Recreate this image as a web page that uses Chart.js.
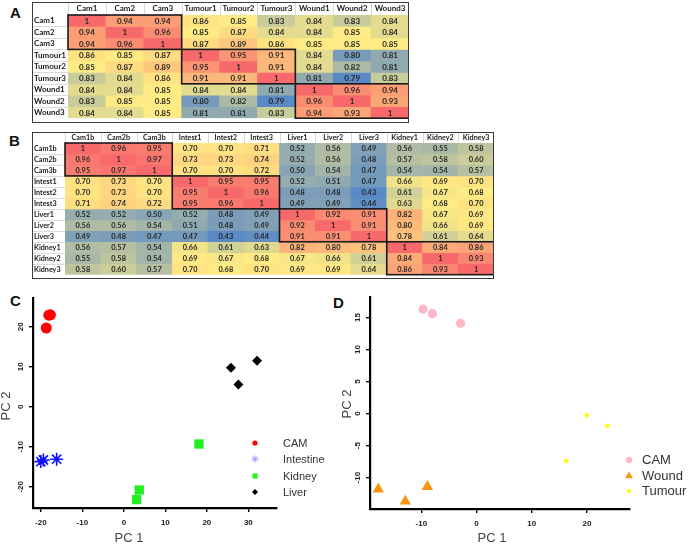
<!DOCTYPE html>
<html><head><meta charset="utf-8">
<script src="https://cdn.jsdelivr.net/npm/chart.js@4.4.1/dist/chart.umd.min.js"></script>
<style>
html,body{margin:0;padding:0;background:#fff;}
body{width:688px;height:545px;position:relative;overflow:hidden;}
canvas{position:absolute;}
.letter{position:absolute;font:bold 15px "Liberation Sans",Arial,sans-serif;color:#111;line-height:1;}
</style></head><body>
<div class="letter" style="left:10px;top:5px">A</div>
<div class="letter" style="left:9px;top:133px">B</div>
<div class="letter" style="left:10px;top:293px">C</div>
<div class="letter" style="left:333px;top:295px">D</div>
<canvas id="hmA" width="377" height="121" style="left:32px;top:2px;width:377px;height:121px"></canvas>
<canvas id="hmB" width="462" height="147" style="left:32px;top:132px;width:462px;height:147px"></canvas>
<canvas id="pcC" width="340" height="265" style="left:0px;top:280px;width:340px;height:265px"></canvas>
<canvas id="pcD" width="348" height="265" style="left:340px;top:280px;width:348px;height:265px"></canvas>
<script>
// ---------- DATA ----------
const rowsA = ['Cam1','Cam2','Cam3','Tumour1','Tumour2','Tumour3','Wound1','Wound2','Wound3'];
const colsA = ['Cam1','Cam2','Cam3','Tumour1','Tumour2','Tumour3','Wound1','Wound2','Wound3'];
const valuesA = [
  [1,0.94,0.94,0.86,0.85,0.83,0.84,0.83,0.84],
  [0.94,1,0.96,0.85,0.87,0.84,0.84,0.85,0.84],
  [0.94,0.96,1,0.87,0.89,0.86,0.85,0.85,0.85],
  [0.86,0.85,0.87,1,0.95,0.91,0.84,0.80,0.81],
  [0.85,0.87,0.89,0.95,1,0.91,0.84,0.82,0.81],
  [0.83,0.84,0.86,0.91,0.91,1,0.81,0.79,0.83],
  [0.84,0.84,0.85,0.84,0.84,0.81,1,0.96,0.94],
  [0.83,0.85,0.85,0.80,0.82,0.79,0.96,1,0.93],
  [0.84,0.84,0.85,0.81,0.81,0.83,0.94,0.93,1]
];
const groupsA = [[0,2],[3,5],[6,8]];

const rowsB = ['Cam1b','Cam2b','Cam3b','Intest1','Intest2','Intest3','Liver1','Liver2','Liver3','Kidney1','Kidney2','Kidney3'];
const colsB = ['Cam1b','Cam2b','Cam3b','Intest1','Intest2','Intest3','Liver1','Liver2','Liver3','Kidney1','Kidney2','Kidney3'];
const valuesB = [
  [1,0.96,0.95,0.70,0.70,0.71,0.52,0.56,0.49,0.56,0.55,0.58],
  [0.96,1,0.97,0.73,0.73,0.74,0.52,0.56,0.48,0.57,0.58,0.60],
  [0.95,0.97,1,0.70,0.70,0.72,0.50,0.54,0.47,0.54,0.54,0.57],
  [0.70,0.73,0.70,1,0.95,0.95,0.52,0.51,0.47,0.66,0.69,0.70],
  [0.70,0.73,0.70,0.95,1,0.96,0.48,0.48,0.43,0.61,0.67,0.68],
  [0.71,0.74,0.72,0.95,0.96,1,0.49,0.49,0.44,0.63,0.68,0.70],
  [0.52,0.52,0.50,0.52,0.48,0.49,1,0.92,0.91,0.82,0.67,0.69],
  [0.56,0.56,0.54,0.51,0.48,0.49,0.92,1,0.91,0.80,0.66,0.69],
  [0.49,0.48,0.47,0.47,0.43,0.44,0.91,0.91,1,0.78,0.61,0.64],
  [0.56,0.57,0.54,0.66,0.61,0.63,0.82,0.80,0.78,1,0.84,0.86],
  [0.55,0.58,0.54,0.69,0.67,0.68,0.67,0.66,0.61,0.84,1,0.93],
  [0.58,0.60,0.57,0.70,0.68,0.70,0.69,0.69,0.64,0.86,0.93,1]
];
const groupsB = [[0,2],[3,5],[6,8],[9,11]];

const camC = [{x:-18.1,y:22.9},{x:-17.7,y:23.0},{x:-18.7,y:19.7}];
const intestineC = [{x:-20.0,y:-13.7},{x:-19.4,y:-13.3},{x:-16.2,y:-13.1}];
const kidneyC = [{x:18.1,y:-9.3},{x:3.7,y:-20.8},{x:3.05,y:-23.2}];
const liverC = [{x:25.8,y:9.75},{x:27.6,y:5.6},{x:32.1,y:11.5}];

const camD = [{x:-9.7,y:16.3},{x:-8.0,y:15.6},{x:-2.9,y:14.1}];
const woundD = [{x:-17.8,y:-11.8},{x:-12.9,y:-13.7},{x:-8.9,y:-11.4}];
const tumourD = [{x:20.0,y:-0.27},{x:23.7,y:-1.9},{x:16.2,y:-7.4}];

const xTicksC = [-20,-10,0,10,20,30];
const yTicksC = [-20,-10,0,10,20];
const xTicksD = [-10,0,10,20];
const yTicksD = [-10,-5,0,5,10,15];

// ---------- COLOUR SCALE (Excel 3-colour: blue / yellow / red) ----------
const LOW = [90,138,198], MID = [255,235,132], HIGH = [248,105,107];
function makeScale(matrix){
  const all = matrix.flat().slice().sort((a,b)=>a-b);
  const n = all.length, r = 0.5*(n-1), lo = Math.floor(r);
  const mid = all[lo] + (all[Math.min(lo+1,n-1)] - all[lo])*(r-lo);
  const min = all[0], max = all[n-1];
  const mix = (a,b,t)=>'rgb('+a.map((v,i)=>Math.round(v+(b[i]-v)*t)).join(',')+')';
  return v => v <= mid ? mix(LOW, MID, (v-min)/((mid-min)||1)) : mix(MID, HIGH, (v-mid)/((max-mid)||1));
}

const FONT = 'Lato, "Liberation Sans", Arial, sans-serif';

function heatPlugin(values, groups, cellFont){
  return {
    id:'heatcells',
    afterDraw(chart){
      const ctx = chart.ctx, ca = chart.chartArea;
      ctx.save();
      ctx.strokeStyle = '#dadada'; ctx.lineWidth = 1;
      const m0 = chart.getDatasetMeta(0).data;
      m0.forEach((el,j)=>{ if(j>0){ const x = Math.round(el.x - el.width/2)+0.5; ctx.beginPath(); ctx.moveTo(x,1); ctx.lineTo(x,ca.top); ctx.stroke(); } });
      chart.data.datasets.forEach((ds,i)=>{ if(i>0){ const el = chart.getDatasetMeta(i).data[0]; const y = Math.round(Math.min(el.y,el.base))+0.5; ctx.beginPath(); ctx.moveTo(1,y); ctx.lineTo(ca.left,y); ctx.stroke(); } });
      ctx.beginPath(); ctx.moveTo(ca.left+0.5,1); ctx.lineTo(ca.left+0.5,ca.top); ctx.stroke();
      ctx.fillStyle = '#262626'; ctx.font = cellFont; ctx.textAlign = 'center'; ctx.textBaseline = 'middle';
      chart.data.datasets.forEach((ds,i)=>{
        chart.getDatasetMeta(i).data.forEach((el,j)=>{
          const v = values[i][j];
          ctx.fillText(v === 1 ? '1' : v.toFixed(2), el.x, (el.y+el.base)/2 + 0.5);
        });
      });
      ctx.strokeStyle = '#1a1a1a'; ctx.lineWidth = 1.6;
      groups.forEach(([s,e])=>{
        const a = chart.getDatasetMeta(s).data[s], b = chart.getDatasetMeta(e).data[e];
        const x1 = a.x - a.width/2, x2 = b.x + b.width/2;
        const y1 = Math.min(a.y,a.base), y2 = Math.max(b.y,b.base);
        ctx.strokeRect(x1, y1, x2-x1, y2-y1);
      });
      ctx.strokeStyle = '#3a3a3a'; ctx.lineWidth = 1;
      ctx.strokeRect(0.5,0.5,chart.width-1,chart.height-1);
      ctx.restore();
    }
  };
}

function heatmap(id, rows, cols, values, groups, g){
  const color = makeScale(values);
  return new Chart(document.getElementById(id), {
    type:'bar',
    data:{
      labels: cols,
      datasets: rows.map((r,i)=>({
        label: r,
        data: cols.map(()=>1),
        backgroundColor: values[i].map(color),
        borderWidth: 0,
        barPercentage: 1,
        categoryPercentage: 1
      }))
    },
    options:{
      responsive:false, animation:false, events:[],
      layout:{padding:{left:g.padLeft, right:0, top:0, bottom:0}},
      plugins:{legend:{display:false}, tooltip:{enabled:false}},
      scales:{
        x:{type:'category', position:'top', stacked:true, offset:true,
           grid:{display:false, drawTicks:false}, border:{display:false},
           ticks:{autoSkip:false, maxRotation:0, minRotation:0, padding:g.xPad, color:'#1a1a1a', font:{family:FONT, weight:'bold', size:g.labelSize}},
           afterFit(s){ s.height = g.headH; }},
        y:{type:'linear', stacked:true, min:0, max:rows.length, reverse:true,
           grid:{display:false, drawTicks:false}, border:{display:false},
           afterBuildTicks(s){ s.ticks = rows.map((r,i)=>({value:i+0.5})); },
           ticks:{autoSkip:false, crossAlign:'far', padding:0, color:'#1a1a1a', font:{family:FONT, weight:'bold', size:g.labelSize},
                  callback:(v)=>rows[Math.floor(v)]},
           afterFit(s){ s.width = g.labW; }}
      }
    },
    plugins:[heatPlugin(values, groups, 'bold '+g.cellSize+'px '+FONT)]
  });
}

heatmap('hmA', rowsA, colsA, valuesA, groupsA, {padLeft:2, labW:34, headH:13, xPad:2, labelSize:8, cellSize:8});
heatmap('hmB', rowsB, colsB, valuesB, groupsB, {padLeft:2, labW:31, headH:11, xPad:1.5, labelSize:7.2, cellSize:7.4});

// ---------- PCA SCATTERS ----------
const AX = '"Liberation Sans", Arial, Helvetica, sans-serif';
function pcaPlugin(cfg){
  return {
    id:'pcaextra',
    afterDraw(chart){
      const ctx = chart.ctx, ys = chart.scales.y, ca = chart.chartArea;
      ctx.save();
      ctx.fillStyle = '#222'; ctx.font = 'bold 8px '+AX; ctx.textAlign = 'center'; ctx.textBaseline = 'middle';
      ys.ticks.forEach(t=>{
        const py = ys.getPixelForValue(t.value);
        ctx.save(); ctx.translate(ca.left - cfg.yLabOff, py); ctx.rotate(-Math.PI/2);
        ctx.fillText(String(t.value), 0, 0); ctx.restore();
      });
      ctx.fillStyle = '#444'; ctx.font = '13px '+AX;
      ctx.fillText('PC 1', cfg.xTitle[0], cfg.xTitle[1]);
      ctx.save(); ctx.translate(cfg.yTitle[0], cfg.yTitle[1]); ctx.rotate(-Math.PI/2); ctx.fillText('PC 2',0,0); ctx.restore();
      ctx.textAlign = 'left'; ctx.font = cfg.legFont+'px '+AX;
      cfg.legend.forEach((it,k)=>{
        const y = cfg.legY[k];
        ctx.save();
        ctx.fillStyle = it.fill; ctx.strokeStyle = it.stroke; ctx.lineWidth = it.bw;
        Chart.helpers.drawPoint(ctx, {pointStyle: it.style, radius: it.r, rotation: 0, borderWidth: it.bw}, cfg.legX, y);
        ctx.restore();
        ctx.fillStyle = '#333';
        ctx.fillText(it.label, cfg.legTextX, y + 0.5);
      });
      ctx.restore();
    }
  };
}

function pca(id, datasets, ax, cfg){
  return new Chart(document.getElementById(id), {
    type:'scatter',
    data:{datasets},
    options:{
      responsive:false, animation:false, events:[],
      layout:{padding:{left:0, right:ax.padRight, top:ax.padTop, bottom:0}},
      plugins:{legend:{display:false}, tooltip:{enabled:false}},
      scales:{
        x:{type:'linear', min:ax.xmin, max:ax.xmax,
           border:{display:true, color:'#000', width:2.2},
           grid:{display:true, drawOnChartArea:false, drawTicks:true, tickLength:4, color:'#000', lineWidth:1.4},
           afterBuildTicks(s){ s.ticks = ax.xticks.map(v=>({value:v})); },
           ticks:{padding:6, color:'#222', font:{family:AX, weight:'bold', size:8}, maxRotation:0},
           afterFit(s){ s.height = ax.bottomH; }},
        y:{type:'linear', min:ax.ymin, max:ax.ymax,
           border:{display:true, color:'#000', width:2.2},
           grid:{display:true, drawOnChartArea:false, drawTicks:true, tickLength:4, color:'#000', lineWidth:1.4},
           afterBuildTicks(s){ s.ticks = ax.yticks.map(v=>({value:v})); },
           ticks:{display:false},
           afterFit(s){ s.width = ax.leftW; }}
      }
    },
    plugins:[pcaPlugin(cfg)]
  });
}

function ds(label, data, style, r, fill, stroke, bw){
  return {label, data, pointStyle:style, pointRadius:r, pointHoverRadius:r,
          pointBackgroundColor:fill, pointBorderColor:stroke, pointBorderWidth:bw, showLine:false};
}

pca('pcC', [
  ds('CAM', camC, 'circle', 5.5, '#ff0000', '#ff0000', 0),
  ds('Intestine', intestineC, 'star', 6.5, '#1010ff', '#1010ff', 1.6),
  ds('Kidney', kidneyC, 'rect', 6.6, '#22ee22', '#22ee22', 0),
  ds('Liver', liverC, 'rectRot', 5, '#000000', '#000000', 0)
], {xmin:-21.9, xmax:36.9, ymin:-25.3, ymax:27.2, xticks:xTicksC, yticks:yTicksC, padRight:63, padTop:18, bottomH:37, leftW:33},
{yLabOff:12, xTitle:[129,258], yTitle:[6,126], legX:255, legTextX:283, legY:[163,179,196,212], legFont:11,
 legend:[
   {label:'CAM', style:'circle', r:2.6, fill:'#ff0000', stroke:'#ff0000', bw:0},
   {label:'Intestine', style:'star', r:3.5, fill:'#9a9aff', stroke:'#9a9aff', bw:1},
   {label:'Kidney', style:'rect', r:3.6, fill:'#22ee22', stroke:'#22ee22', bw:0},
   {label:'Liver', style:'rectRot', r:3, fill:'#000', stroke:'#000', bw:0}
 ]});

pca('pcD', [
  ds('CAM', camD, 'circle', 4.6, '#ffb8c6', '#ffb8c6', 0),
  ds('Wound', woundD, 'triangle', 6.6, '#f7950f', '#f7950f', 0),
  ds('Tumour', tumourD, 'circle', 2.2, '#ffff00', '#ffff00', 0)
], {xmin:-19.3, xmax:27.8, ymin:-14.9, ymax:18.2, xticks:xTicksD, yticks:yTicksD, padRight:58, padTop:17, bottomH:36, leftW:30},
{yLabOff:12.5, xTitle:[152,258], yTitle:[7,124], legX:289, legTextX:302, legY:[180,196,211], legFont:13,
 legend:[
   {label:'CAM', style:'circle', r:3.2, fill:'#ffb8c6', stroke:'#ffb8c6', bw:0},
   {label:'Wound', style:'triangle', r:4.6, fill:'#f7950f', stroke:'#f7950f', bw:0},
   {label:'Tumour', style:'circle', r:2, fill:'#ffff00', stroke:'#ffff00', bw:0}
 ]});
</script>
</body></html>
